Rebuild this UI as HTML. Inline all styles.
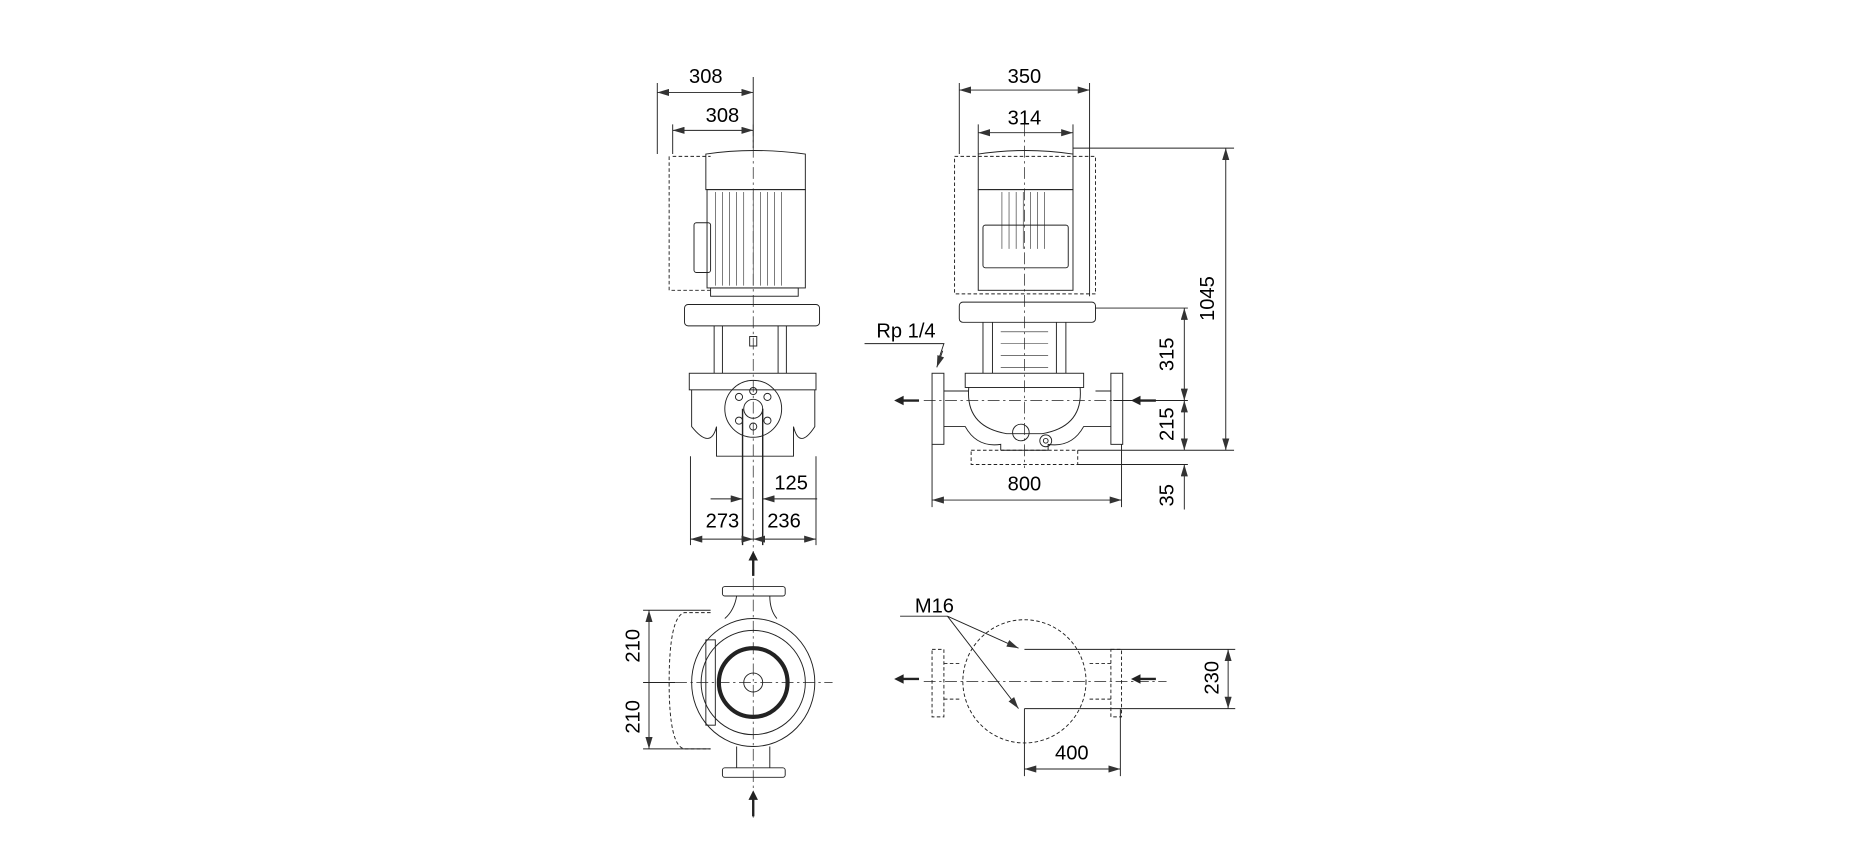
<!DOCTYPE html>
<html><head><meta charset="utf-8"><style>
html,body{margin:0;padding:0;background:#fff;}
svg{display:block;}
text{font-family:"Liberation Sans",sans-serif;font-size:17px;fill:#000;}
</style></head><body>
<svg width="1857" height="865" viewBox="0 0 1568 730" preserveAspectRatio="none" xmlns="http://www.w3.org/2000/svg">
<defs>
<marker id="a" viewBox="0 0 10 6" refX="10" refY="3" markerWidth="10" markerHeight="6" orient="auto-start-reverse" markerUnits="userSpaceOnUse"><path d="M0,0 L10,3 L0,6 z" fill="#333"/></marker>
</defs>
<g fill="none" stroke="#222" stroke-width="0.8">
<!-- LEFT FRONT VIEW -->
<path d="M568,132 H600 M565,132 V245 H600" stroke-dasharray="3,2"/>
<path d="M596,160 V130 Q636,124 680,130 V160 Z"/>
<rect x="597" y="160" width="83" height="83"/>
<path d="M604,162V241M610,162V241M616,162V241M622,162V241M628,162V241M636,162V241M642,162V241M648,162V241M654,162V241M660,162V241" stroke-width="0.5"/>
<rect x="586" y="188" width="14" height="42" rx="2"/>
<rect x="600" y="243" width="74" height="7"/>
<rect x="578" y="257" width="114" height="18" rx="3"/>
<path d="M603,275V315M610,275V315M657,275V315M664,275V315"/>
<rect x="633" y="284" width="6" height="8"/>
<rect x="582" y="315" width="107" height="14"/>
<path d="M584,329 V360 Q600,380 605,360 V385 H670 V360 Q675,380 688,360 V329"/>
<circle cx="636" cy="345" r="24"/>
<circle cx="636" cy="345" r="8"/>
<circle cx="624" cy="335" r="3"/><circle cx="648" cy="335" r="3"/><circle cx="624" cy="355" r="3"/><circle cx="648" cy="355" r="3"/><circle cx="636" cy="330" r="3"/><circle cx="636" cy="360" r="3"/>
<path d="M627,345V460M644,345V460" stroke-width="1.2"/>
<path d="M636,105V470" stroke-dasharray="10,3,2,3" stroke-width="0.6"/>
<!-- dims left -->
<path d="M555,70V130M568,105V130M636,65V125"/>
<path d="M555,78H636" marker-start="url(#a)" marker-end="url(#a)"/>
<path d="M568,110H636" marker-start="url(#a)" marker-end="url(#a)"/>
<path d="M583,385V460M689,385V460"/>
<path d="M600,421H627" marker-end="url(#a)"/><path d="M690,421H644" marker-end="url(#a)"/>
<path d="M583,455H636" marker-start="url(#a)" marker-end="url(#a)"/>
<path d="M636,455H689" marker-start="url(#a)" marker-end="url(#a)"/>

<!-- RIGHT FRONT VIEW -->
<rect x="806" y="132" width="119" height="116" stroke-dasharray="3,2"/>
<path d="M826,160 V130 Q866,124 906,130 V160 Z"/>
<rect x="826" y="160" width="80" height="85"/>
<path d="M846,162V210M852,162V210M858,162V210M864,162V210M870,162V210M876,162V210M882,162V210" stroke-width="0.5"/>
<rect x="830" y="190" width="72" height="36" rx="2"/>
<rect x="810" y="255" width="115" height="17" rx="3"/>
<path d="M830,272V315M838,272V315M892,272V315M900,272V315"/>
<path d="M845,280H885M845,290H885M845,300H885M845,310H885" stroke-width="0.5"/>
<rect x="815" y="315" width="100" height="12"/>
<rect x="787" y="315" width="10" height="60"/>
<rect x="938" y="315" width="10" height="60"/>
<path d="M797,330 H818 M797,360 H815 Q825,378 845,375 V380 M938,330 H925 M938,360 H915 Q905,378 885,375 V380"/>
<path d="M818,327 Q815,360 850,366 H880 Q915,360 912,327"/>
<circle cx="862" cy="365" r="7"/><circle cx="883" cy="372" r="5"/><circle cx="883" cy="372" r="2"/>
<path d="M845,380H885"/>
<rect x="820" y="380" width="90" height="12" stroke-dasharray="3,2"/>
<path d="M865,105V395" stroke-dasharray="10,3,2,3" stroke-width="0.6"/>
<path d="M780,338H985" stroke-dasharray="10,3,2,3" stroke-width="0.6"/>
<!-- dims right -->
<path d="M810,70V130M920,70V250M826,105V130M906,105V130"/>
<path d="M810,76H920" marker-start="url(#a)" marker-end="url(#a)"/>
<path d="M826,112H906" marker-start="url(#a)" marker-end="url(#a)"/>
<path d="M906,125H1042M925,260H1003M940,338H1003M910,380H1042M910,392H1003"/>
<path d="M1035,125V380" marker-start="url(#a)" marker-end="url(#a)"/>
<path d="M1000,260V338" marker-start="url(#a)" marker-end="url(#a)"/>
<path d="M1000,338V380" marker-start="url(#a)" marker-end="url(#a)"/>
<path d="M1000,430V392" marker-end="url(#a)"/>
<path d="M787,375V428M947,375V428"/>
<path d="M787,422H947" marker-start="url(#a)" marker-end="url(#a)"/>
<path d="M730,290H797L792,305" /><path d="M796,296L791,310" marker-end="url(#a)"/>

<!-- TOP LEFT VIEW (bottom) -->
<path d="M600,517 H578 Q565,520 565,576 Q565,630 578,632 H600" stroke-dasharray="3,2"/>
<ellipse cx="636" cy="576" rx="52" ry="54"/>
<ellipse cx="636" cy="576" rx="44" ry="44"/>
<rect x="596" y="540" width="8" height="72"/>
<circle cx="636" cy="576" r="29" stroke-width="3.5"/>
<circle cx="636" cy="576" r="8"/>
<rect x="610" y="495" width="53" height="8" rx="2"/>
<rect x="610" y="648" width="53" height="8" rx="2"/>
<path d="M622,503 Q620,515 612,522 M650,503 Q650,515 656,522 M622,648 V630 M650,648 V630"/>
<path d="M636,470V690" stroke-dasharray="10,3,2,3" stroke-width="0.6"/>
<path d="M570,576H703" stroke-dasharray="10,3,2,3" stroke-width="0.6"/>
<path d="M543,515H600M543,632H600M543,576H570"/>
<path d="M548,576V515" marker-end="url(#a)"/><path d="M548,576V632" marker-end="url(#a)"/>

<!-- TOP RIGHT VIEW -->
<circle cx="865" cy="575" r="52" stroke-dasharray="3,2"/>
<path d="M787,548H797V605H787Z M938,548H947V605H938Z" stroke-dasharray="3,2"/>
<path d="M797,560H812 M797,590H812 M938,560H918 M938,590H918" stroke-dasharray="3,2"/>
<path d="M780,575H985" stroke-dasharray="10,3,2,3" stroke-width="0.6"/>
<path d="M865,548H1043M865,598H1043M865,598V655M946,598V655"/>
<path d="M1037,548V598" marker-start="url(#a)" marker-end="url(#a)"/>
<path d="M865,649H946" marker-start="url(#a)" marker-end="url(#a)"/>
<path d="M760,520H800"/>
<path d="M800,520L860,547" marker-end="url(#a)"/>
<path d="M800,520L860,598" marker-end="url(#a)"/>
</g>
<!-- flow arrows -->
<g fill="#222">
<path d="M755,338 L763,334 V337 H776 V339 H763 V342 Z"/>
<path d="M955,338 L963,334 V337 H976 V339 H963 V342 Z"/>
<path d="M755,573 L763,569 V572 H776 V574 H763 V577 Z"/>
<path d="M955,573 L963,569 V572 H976 V574 H963 V577 Z"/>
<path d="M636,465 L632,473 H635 V486 H637 V473 H640 Z"/>
<path d="M636,667 L632,675 H635 V689 H637 V675 H640 Z"/>
</g>
<g text-anchor="middle">
<text x="596" y="70">308</text>
<text x="610" y="103">308</text>
<text x="668" y="413">125</text>
<text x="610" y="445">273</text>
<text x="662" y="445">236</text>
<text x="865" y="70">350</text>
<text x="865" y="105">314</text>
<text x="865" y="414">800</text>
<text x="765" y="285">Rp 1/4</text>
<text x="789" y="517">M16</text>
<text x="905" y="641">400</text>
<text transform="translate(1025,252) rotate(-90)">1045</text>
<text transform="translate(991,299) rotate(-90)">315</text>
<text transform="translate(991,358) rotate(-90)">215</text>
<text transform="translate(991,418) rotate(-90)">35</text>
<text transform="translate(540,545) rotate(-90)">210</text>
<text transform="translate(540,605) rotate(-90)">210</text>
<text transform="translate(1029,572) rotate(-90)">230</text>
</g>
</svg>
</body></html>
